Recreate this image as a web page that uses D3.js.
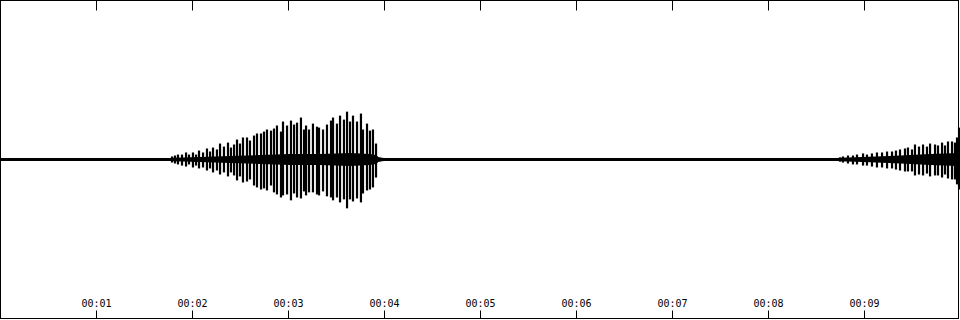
<!DOCTYPE html>
<html>
<head>
<meta charset="utf-8">
<script src="https://cdn.jsdelivr.net/npm/d3@7"></script>
<style>
  body { margin: 0; background: #fff; }
  #chart text { font-family: "DejaVu Sans Mono", monospace; font-size: 10px; fill: #000; }
</style>
</head>
<body>
<div id="chart"></div>
<script>
var width = 960,
    height = 320;

// tick seconds along the time axis
var tickSeconds = [1, 2, 3, 4, 5, 6, 7, 8, 9];

// spike peaks (seconds, upper amplitude, lower amplitude)
var spikeTimes = [
    1.792, 1.823, 1.854, 1.896, 1.938, 1.969, 2.010, 2.042, 2.073, 2.115,
    2.156, 2.188, 2.219, 2.260, 2.292, 2.333, 2.375, 2.406, 2.438, 2.469,
    2.500, 2.531, 2.573, 2.604, 2.646, 2.677, 2.719, 2.750, 2.781, 2.823,
    2.854, 2.885, 2.927, 2.948, 2.990, 3.031, 3.063, 3.094, 3.135, 3.167,
    3.188, 3.219, 3.260, 3.302, 3.323, 3.365, 3.406, 3.448, 3.469, 3.510,
    3.542, 3.583, 3.615, 3.646, 3.677, 3.719, 3.760, 3.781, 3.823, 3.854,
    3.885, 3.917,
    8.750, 8.781, 8.833, 8.885, 8.927, 8.990, 9.031, 9.083, 9.135, 9.188,
    9.240, 9.292, 9.333, 9.375, 9.427, 9.458, 9.500, 9.531, 9.573, 9.615,
    9.656, 9.688, 9.740, 9.771, 9.813, 9.844, 9.875, 9.917, 9.948, 9.969,
    9.990
];
var spikeTop = [
    .019, .025, .031, .031, .044, .031, .044, .031, .056, .044,
    .069, .050, .075, .063, .100, .081, .106, .075, .094, .125,
    .100, .138, .138, .119, .150, .163, .163, .175, .188, .181,
    .194, .213, .175, .238, .213, .244, .219, .231, .263, .188,
    .213, .188, .225, .206, .200, .188, .219, .244, .263, .225,
    .275, .250, .300, .238, .275, .238, .288, .188, .225, .181,
    .188, .100,
    .013, .019, .025, .025, .031, .038, .031, .038, .044, .044,
    .050, .050, .056, .063, .069, .075, .063, .094, .081, .094,
    .081, .100, .094, .088, .106, .088, .113, .113, .106, .138,
    .200
];
var spikeBottom = [
    .019, .025, .031, .038, .044, .031, .050, .038, .056, .050,
    .069, .056, .081, .069, .094, .081, .106, .081, .100, .131,
    .106, .144, .138, .125, .163, .175, .188, .181, .194, .163,
    .206, .219, .238, .225, .219, .256, .213, .238, .244, .200,
    .225, .206, .206, .219, .225, .200, .231, .238, .256, .238,
    .269, .250, .306, .250, .263, .244, .269, .213, .194, .188,
    .175, .113,
    .013, .019, .025, .031, .031, .038, .038, .044, .050, .050,
    .056, .056, .063, .069, .075, .075, .075, .100, .094, .100,
    .088, .106, .100, .100, .113, .094, .119, .125, .125, .156,
    .188
];

// solid body of the signal between the spikes (seconds, amplitude)
var bodyTimes = [0, 1.77, 1.80, 2.08, 2.40, 2.71, 3.02, 3.33, 3.65, 3.85, 3.92, 3.94, 3.98, 4.00, 8.73, 8.75, 9.06, 9.38, 9.69, 9.99];
var bodyAmp   = [.009, .009, .011, .016, .022, .028, .034, .034, .040, .034, .028, .016, .011, .009, .009, .011, .017, .025, .034, .040];

var svg = d3.select("#chart").append("svg")
    .attr("width", width)
    .attr("height", height);

var x = d3.scaleLinear().domain([0, 10]).range([0, 960]);
var y = d3.scaleLinear().domain([-1, 1]).range([319, 0]);

var body = d3.range(bodyTimes.length).map(function (i) {
    return { t: bodyTimes[i], a: bodyAmp[i] };
});

svg.append("path")
    .datum(body)
    .attr("d", d3.area()
        .x(function (d) { return x(d.t); })
        .y0(function (d) { return y(-d.a); })
        .y1(function (d) { return y(d.a); }))
    .style("fill", "#000");

var spikes = d3.range(spikeTimes.length).map(function (i) {
    return { t: spikeTimes[i], top: spikeTop[i], bottom: spikeBottom[i] };
});

svg.selectAll("rect.spike")
    .data(spikes)
    .enter().append("rect")
    .attr("class", "spike")
    .attr("x", function (d) { return x(d.t) - 1.1; })
    .attr("width", 2.2)
    .attr("y", function (d) { return y(d.top); })
    .attr("height", function (d) { return y(-d.bottom) - y(d.top); })
    .style("fill", "#000");

// frame
svg.append("rect")
    .attr("x", 0.5)
    .attr("y", 0.5)
    .attr("width", 958)
    .attr("height", 318)
    .style("fill", "none")
    .style("stroke", "#000");

// ticks on top, no labels
var top = svg.append("g")
    .attr("transform", "translate(0,0.5)")
    .call(d3.axisBottom(x).tickValues(tickSeconds).tickSize(10).tickFormat(""));

// ticks on bottom, labels above them
var bottom = svg.append("g")
    .attr("transform", "translate(0,318.5)")
    .call(d3.axisTop(x).tickValues(tickSeconds).tickSize(8).tickPadding(4)
        .tickFormat(function (d) { return "00:" + d3.format("02")(d); }));

svg.selectAll(".domain").remove();
svg.selectAll(".tick line").style("stroke", "#000");
svg.selectAll(".tick text").attr("font-family", null).attr("font-size", null);
</script>
</body>
</html>
